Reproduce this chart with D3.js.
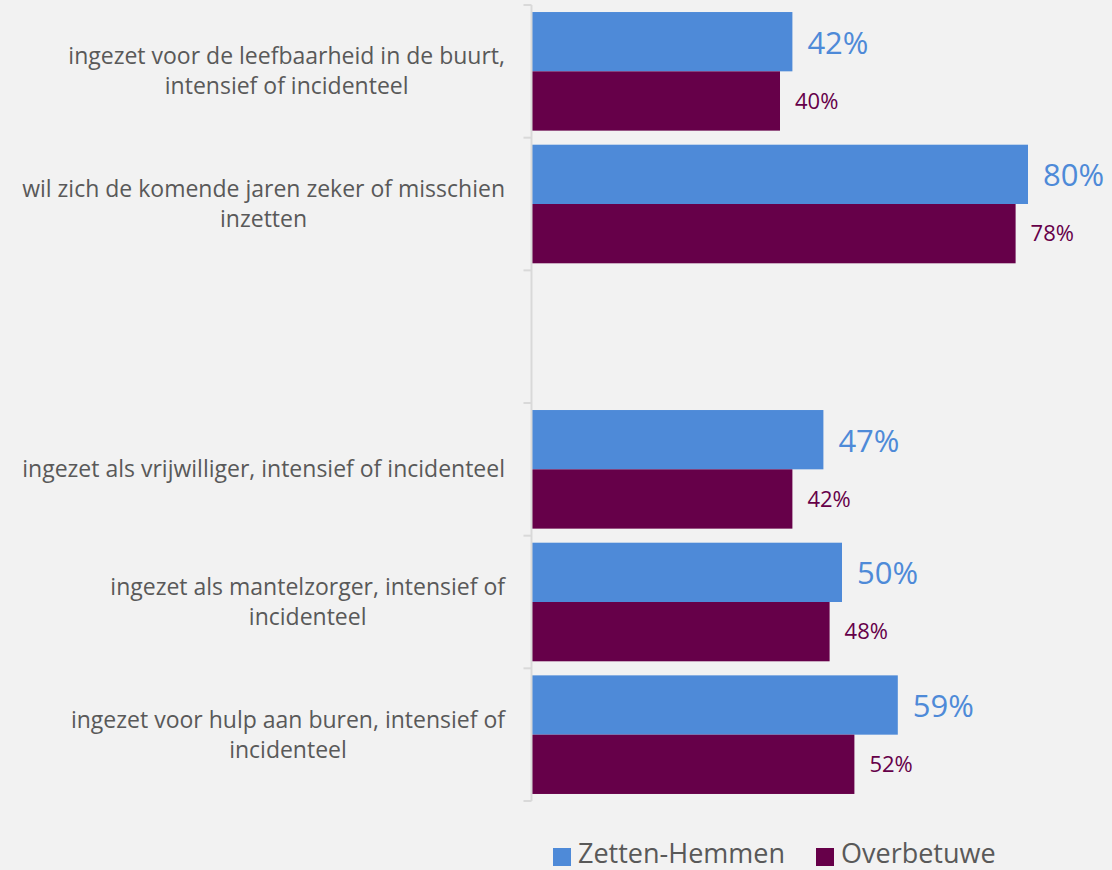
<!DOCTYPE html>
<html>
<head>
<meta charset="utf-8">
<script src="https://cdn.jsdelivr.net/npm/d3@7"></script>
<style>
  body { margin: 0; background: #f2f2f2; }
  text { font-family: "Open Sans", "Liberation Sans", sans-serif; }
</style>
</head>
<body>
<div id="chart"></div>
<script>
// categories top to bottom, the empty one is a spacer in the original chart
const categories = [
  "ingezet voor de leefbaarheid in de buurt,|intensief of incidenteel",
  "wil zich de komende jaren zeker of misschien|inzetten",
  "",
  "ingezet als vrijwilliger, intensief of incidenteel",
  "ingezet als mantelzorger, intensief of|incidenteel",
  "ingezet voor hulp aan buren, intensief of|incidenteel"
];
const seriesNames = ["Zetten-Hemmen", "Overbetuwe"];
const zettenHemmen = [42, 80, null, 47, 50, 59];
const overbetuwe = [40, 78, null, 42, 48, 52];
const colors = ["#4e8ad8", "#660049"];

const W = 1112, H = 870;
const svg = d3.select("#chart").append("svg")
  .attr("width", W).attr("height", H);

svg.append("rect").attr("width", W).attr("height", H).attr("fill", "#f2f2f2");

const axisX = 531.5;
const topY = 5, bottomY = 801;

const y = d3.scaleBand()
  .domain(d3.range(categories.length))
  .range([topY, bottomY])
  .paddingInner(0.106)
  .paddingOuter(0.053);

const bandStep = (bottomY - topY) / categories.length;

const x = d3.scaleLinear().domain([0, 100]).range([axisX + 0.5, axisX + 0.5 + 620]);

const sub = d3.scaleBand().domain([0, 1]).range([0, y.bandwidth()]);

// bars
const series = [zettenHemmen, overbetuwe];
series.forEach(function (vals, s) {
  let rows = vals.map(function (v, i) { return { v: v, i: i }; }).filter(d => d.v != null);

  svg.append("g").selectAll("rect")
    .data(rows)
    .join("rect")
    .attr("x", x(0))
    .attr("y", d => y(d.i) + sub(s))
    .attr("width", d => x(d.v) - x(0))
    .attr("height", sub.bandwidth())
    .attr("fill", colors[s]);

  svg.append("g").selectAll("text")
    .data(rows)
    .join("text")
    .attr("x", d => x(d.v) + 15)
    .attr("y", d => y(d.i) + sub(s) + sub.bandwidth() / 2 + (s === 0 ? 1 : 0))
    .attr("dy", "0.35em")
    .attr("fill", colors[s])
    .style("font-size", s === 0 ? "31px" : "22px")
    .text(d => d.v + "%");
});

// vertical axis with ticks between categories
const axisG = svg.append("g").attr("stroke", "#d9d9d9").attr("stroke-width", 2);
axisG.append("line")
  .attr("x1", axisX).attr("x2", axisX)
  .attr("y1", topY).attr("y2", bottomY);
axisG.selectAll("line.tick")
  .data(d3.range(categories.length + 1))
  .join("line")
  .attr("class", "tick")
  .attr("x1", axisX - 8).attr("x2", axisX)
  .attr("y1", d => topY + d * bandStep)
  .attr("y2", d => topY + d * bandStep);

// category labels: block right aligned, lines centered
const labelRight = 505;
const lineH = 30;
categories.forEach(function (c, i) {
  if (!c) return;
  const lines = c.split("|");
  const g = svg.append("g");
  const cy = topY + (i + 0.5) * bandStep;
  const texts = g.selectAll("text")
    .data(lines)
    .join("text")
    .attr("text-anchor", "middle")
    .attr("fill", "#595959")
    .style("font-size", "23px")
    .attr("y", (d, k) => cy + (k - (lines.length - 1) / 2) * lineH)
    .attr("dy", "0.35em")
    .text(d => d);
  let maxW = 0;
  texts.each(function () { maxW = Math.max(maxW, this.getComputedTextLength()); });
  texts.attr("x", labelRight - maxW / 2);
});

// legend
const legend = svg.append("g");
const legendX = [553, 816];
seriesNames.forEach(function (n, s) {
  legend.append("rect")
    .attr("x", legendX[s]).attr("y", 848)
    .attr("width", 18).attr("height", 18)
    .attr("fill", colors[s]);
  legend.append("text")
    .attr("x", legendX[s] + 25).attr("y", 854)
    .attr("dy", "0.35em")
    .attr("fill", "#595959")
    .style("font-size", "27px")
    .text(n);
});
</script>
</body>
</html>
